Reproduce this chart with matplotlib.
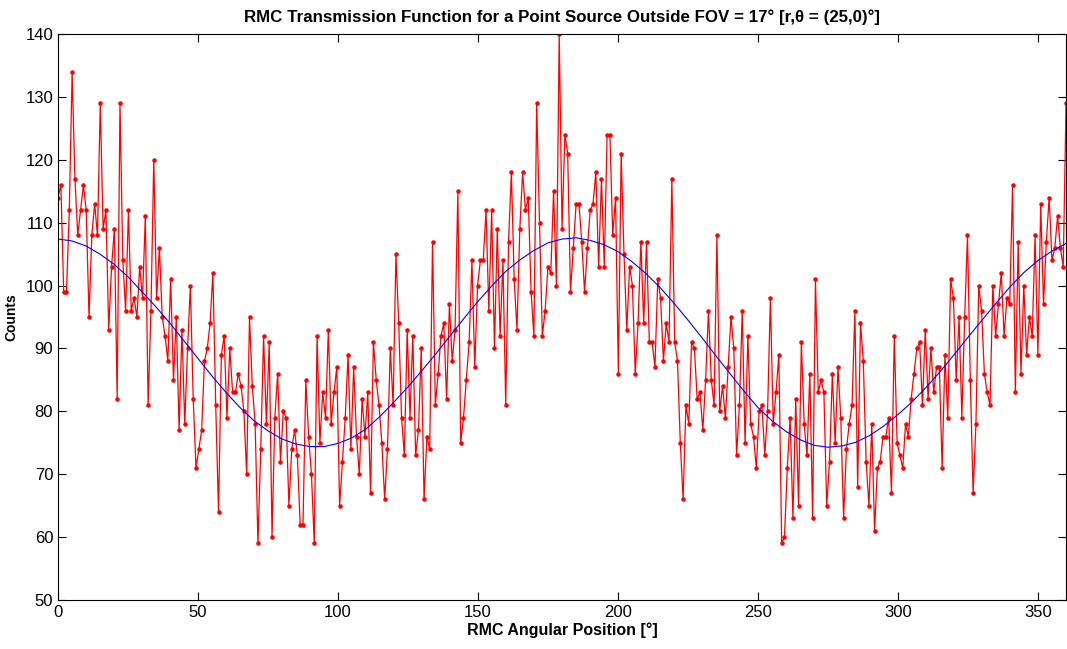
import numpy as np
import matplotlib
matplotlib.use('Agg')
import matplotlib.pyplot as plt

counts_000 = [114, 116, 99, 99, 112, 134, 117, 108, 112, 116, 112, 95, 108, 113, 108,
              129, 109, 112, 93, 103, 109, 82, 129, 104, 96, 112, 96, 98, 95, 103]
counts_030 = [98, 111, 81, 96, 120, 98, 106, 95, 92, 88, 101, 85, 95, 77, 93,
              78, 90, 100, 82, 71, 74, 77, 88, 90, 94, 102, 81, 64, 89, 92]
counts_060 = [79, 90, 83, 83, 86, 84, 80, 70, 95, 84, 78, 59, 74, 92, 78,
              91, 60, 79, 86, 72, 80, 79, 65, 74, 77, 73, 62, 62, 85, 76]
counts_090 = [70, 59, 92, 75, 83, 79, 93, 78, 83, 87, 65, 72, 79, 89, 74,
              87, 76, 70, 82, 76, 83, 67, 91, 85, 81, 75, 66, 74, 90, 81]
counts_120 = [105, 94, 79, 73, 93, 79, 92, 73, 77, 90, 66, 76, 74, 107, 81,
              86, 92, 94, 82, 97, 88, 93, 115, 75, 79, 85, 91, 104, 87, 100]
counts_150 = [104, 104, 112, 96, 112, 90, 109, 92, 104, 81, 107, 118, 101, 93, 109,
              118, 112, 114, 99, 92, 129, 110, 92, 96, 103, 102, 115, 100, 140, 109]
counts_180 = [124, 121, 99, 106, 113, 113, 107, 99, 106, 112, 113, 118, 103, 117, 103,
              124, 124, 108, 114, 86, 121, 105, 93, 103, 100, 86, 94, 107, 94, 107]
counts_210 = [91, 91, 87, 101, 98, 88, 94, 91, 117, 91, 88, 75, 66, 81, 78,
              91, 90, 82, 83, 77, 85, 96, 85, 81, 108, 80, 84, 79, 87, 95]
counts_240 = [90, 73, 81, 96, 75, 92, 78, 76, 71, 80, 81, 73, 80, 98, 78,
              83, 89, 59, 60, 71, 79, 63, 82, 65, 91, 78, 73, 86, 63, 101]
counts_270 = [83, 85, 83, 65, 72, 86, 75, 87, 79, 63, 74, 78, 81, 96, 68,
              94, 88, 72, 65, 78, 61, 71, 72, 76, 76, 79, 67, 92, 75]
counts_300 = [73, 71, 78, 76, 82, 86, 90, 91, 81, 93, 82, 90, 83, 87, 87,
              71, 89, 79, 101, 98, 85, 95, 79, 95, 108, 85, 67, 78, 100, 96]
counts_330 = [86, 83, 81, 100, 92, 97, 102, 92, 98, 97, 116, 83, 107, 86, 100,
              89, 95, 92, 108, 89, 113, 97, 107, 114, 104, 106, 111, 106, 103, 129]

# model transmission curve, read every 5 deg
model_angle = list(range(0, 361, 5))
model_counts = [107.4, 107.1, 106.3, 105.0, 103.4, 101.4, 99.0, 96.6, 94.0, 91.2,
                88.4, 85.6, 83.0, 80.6, 78.5, 76.9, 75.6, 74.8, 74.4, 74.4,
                74.9, 75.8, 77.2, 79.2, 81.5, 83.9, 86.5, 89.2, 92.0, 94.8,
                97.5, 100.0, 102.3, 104.1, 105.6, 106.8, 107.4, 107.6, 107.2, 106.5,
                105.4, 103.8, 101.9, 99.7, 97.2, 94.5, 91.7, 88.8, 86.0, 83.2,
                80.6, 78.5, 76.8, 75.5, 74.6, 74.3, 74.5, 75.1, 76.2, 77.7,
                79.5, 81.5, 83.8, 86.3, 89.0, 91.8, 94.5, 97.2, 99.8, 102.1,
                104.0, 105.5, 106.7]

counts = (counts_000 + counts_030 + counts_060 + counts_090 + counts_120 + counts_150 +
          counts_180 + counts_210 + counts_240 + counts_270 + counts_300 + counts_330)
angle = np.linspace(0, 360, len(counts))

plt.rcParams['font.family'] = ['Liberation Sans', 'DejaVu Sans']

fig = plt.figure(figsize=(10.67, 6.49), dpi=100)
ax = fig.add_axes([0.0544, 0.0755, 0.9447, 0.872])

ax.plot(angle, counts, '-', color='red', lw=0.9, marker='.', ms=4.5)
ax.plot(model_angle, model_counts, '-', color='blue', lw=0.8)

ax.set_xlim(0, 360)
ax.set_ylim(50, 140)
ax.set_xticks(range(0, 351, 50))
ax.set_yticks(range(50, 141, 10))
ax.tick_params(direction='in', top=True, right=True, labelsize=12, length=6)
for s in ax.spines.values():
    s.set_linewidth(0.8)

ax.set_title('RMC Transmission Function for a Point Source Outside FOV = 17° [r,θ = (25,0)°]',
             fontsize=12.2, fontweight='bold', pad=9)
ax.set_xlabel('RMC Angular Position [°]', fontsize=11.5, fontweight='bold', labelpad=2)
ax.set_ylabel('Counts', fontsize=10, fontweight='bold', labelpad=5)

fig.savefig('out.png', dpi=100)
